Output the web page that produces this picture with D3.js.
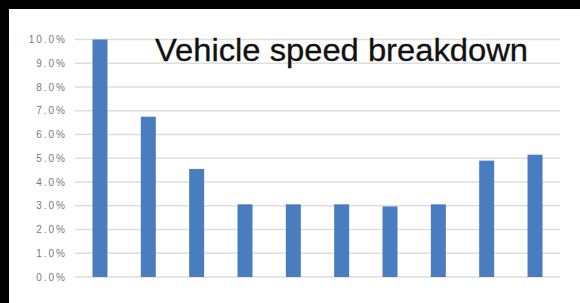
<!DOCTYPE html>
<html lang="en">
<head>
  <meta charset="UTF-8" />
  <title>Vehicle speed breakdown</title>
  <script src="https://d3js.org/d3.v7.min.js"></script>
  <style>
    html, body {
      margin: 0;
      padding: 0;
      background: #000;
    }
    svg {
      display: block;
    }
    .grid line {
      stroke: #dedede;
      stroke-width: 1.3px;
    }
    .tick-label {
      fill: #7a7a7a;
      font-family: 'Liberation Sans', Arial, sans-serif;
      font-size: 10px;
      letter-spacing: 2px;
    }
    .title {
      fill: #111;
      stroke: #111;
      stroke-width: 0.3px;
      font-family: 'Liberation Sans', Arial, sans-serif;
      font-size: 30.5px;
    }
  </style>
</head>
<body>
  <svg id="chart" width="580" height="303"></svg>

  <script>
    // speed bins (not labelled in the picture)
    const categories = ["b1", "b2", "b3", "b4", "b5", "b6", "b7", "b8", "b9", "b10"];
    const shares = [0.100, 0.0675, 0.0455, 0.0306, 0.0306, 0.0306, 0.0297, 0.0306, 0.049, 0.0515];
    const yTicks = [0, 0.01, 0.02, 0.03, 0.04, 0.05, 0.06, 0.07, 0.08, 0.09, 0.10];
    const titleText = "Vehicle speed breakdown";

    const svg = d3.select("#chart");

    // white chart area, black frame on top and left
    svg.append("rect")
      .attr("x", 9)
      .attr("y", 9)
      .attr("width", 571)
      .attr("height", 294)
      .attr("fill", "#fff");

    const x = d3.scaleBand()
      .domain(categories)
      .range([75.8, 559.2])
      .paddingInner(0.69)
      .paddingOuter(0.345);

    const y = d3.scaleLinear()
      .domain([0, 0.10])
      .range([277, 39.5]);

    const fmt = d3.format(".1%");

    // Gridlines
    svg.append("g")
      .attr("class", "grid")
      .selectAll("line")
      .data(yTicks)
      .enter()
      .append("line")
      .attr("x1", 75)
      .attr("x2", 560)
      .attr("y1", d => y(d))
      .attr("y2", d => y(d));

    // Tick labels
    svg.selectAll(".tick-label")
      .data(yTicks)
      .enter()
      .append("text")
      .attr("class", "tick-label")
      .attr("x", 67)
      .attr("y", d => y(d))
      .attr("dy", "0.35em")
      .attr("text-anchor", "end")
      .text(d => fmt(d));

    // Bars
    svg.selectAll(".bar")
      .data(shares)
      .enter()
      .append("rect")
      .attr("class", "bar")
      .attr("x", (d, i) => x(categories[i]))
      .attr("width", x.bandwidth())
      .attr("y", d => y(d))
      .attr("height", d => y(0) - y(d))
      .attr("fill", "#4a7cc0");

    // Title
    svg.append("text")
      .attr("class", "title")
      .attr("x", 155)
      .attr("y", 60.5)
      .attr("textLength", 373)
      .attr("lengthAdjust", "spacingAndGlyphs")
      .text(titleText);
  </script>
</body>
</html>
